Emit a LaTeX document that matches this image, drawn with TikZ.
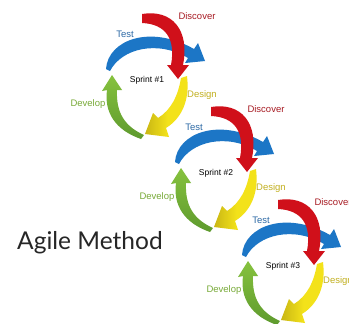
\documentclass[tikz,border=0pt]{standalone}
\usepackage{fontspec}
\setmainfont{Liberation Sans}
\newfontfamily\titlefont{Lato}
\definecolor{abl}{HTML}{1C76C6}
\definecolor{ard}{HTML}{D0101A}
\definecolor{aye}{HTML}{F3E21A}
\definecolor{ayd}{HTML}{C9B614}
\definecolor{agr}{HTML}{86C23E}
\definecolor{agd}{HTML}{5E9A2E}
\definecolor{tdisc}{HTML}{A81C24}
\definecolor{ttest}{HTML}{2E6AA6}
\definecolor{tdes}{HTML}{C2B020}
\definecolor{tdev}{HTML}{78AA38}
\tikzset{
  lbl/.style={inner sep=0pt, font=\fontsize{9.5}{10}\selectfont},
  sprintlbl/.style={inner sep=0pt, font=\fontsize{8.5}{9}\selectfont, text=black},
}
\newcommand{\sprintcycle}[4]{%
\begin{scope}[shift={(#1,#2)}]
  % green (develop)
  \shade[top color=agr, bottom color=agd]
    (141,139) .. controls (115,130) and (104,112) .. (107,90) -- (102,91) -- (112,75)
    -- (122,90) -- (117,90) .. controls (116,112) and (124,126) .. (144,135) -- cycle;
  % yellow (design)
  \shade[left color=ayd, right color=aye, middle color=aye]
    (181,78) -- (187,76) .. controls (190,100) and (182,118) .. (166,128) -- (169,137)
    -- (145,134) -- (153,113) -- (158,118) .. controls (171,110) and (178,96) .. (181,78) -- cycle;
  % blue (test)
  \fill[abl]
    (106,69) .. controls (108,40) and (150,24) .. (194,49) -- (198,43) -- (205,61)
    -- (185,63) -- (188,58) .. controls (158,40) and (122,48) .. (110,71) -- cycle;
  % red (discover)
  \fill[ard]
    (142,14) .. controls (172,9) and (190,30) .. (183,65) -- (189,65) -- (178,79)
    -- (167,65) -- (171,65) .. controls (176,38) and (165,24) .. (142,23) -- cycle;
  \node[lbl, text=tdisc] (disc#3) at (197,16) {Discover};
  \node[lbl, text=ttest] (test#3) at (125,34) {Test};
  \node[sprintlbl] (spr#3) at (147,80) {Sprint \##4};
  \node[lbl, text=tdes] (des#3) at (202,95) {Design};
  \node[lbl, text=tdev] (dev#3) at (88,104) {Develop};
\end{scope}}
\begin{document}
\begin{tikzpicture}[x=1pt,y=-1pt]
\useasboundingbox (0,0) rectangle (349,324);
\fill[white] (0,0) rectangle (349,324);
\clip (0,0) rectangle (349,324);
\sprintcycle{0}{0}{a}{1}
\sprintcycle{69}{93}{b}{2}
\sprintcycle{136}{186}{c}{3}
\node[inner sep=0pt, anchor=base west, font=\titlefont\fontsize{24.5}{27}\selectfont, text=black!85] (title) at (17,249) {Agile Method};
\end{tikzpicture}
\end{document}
